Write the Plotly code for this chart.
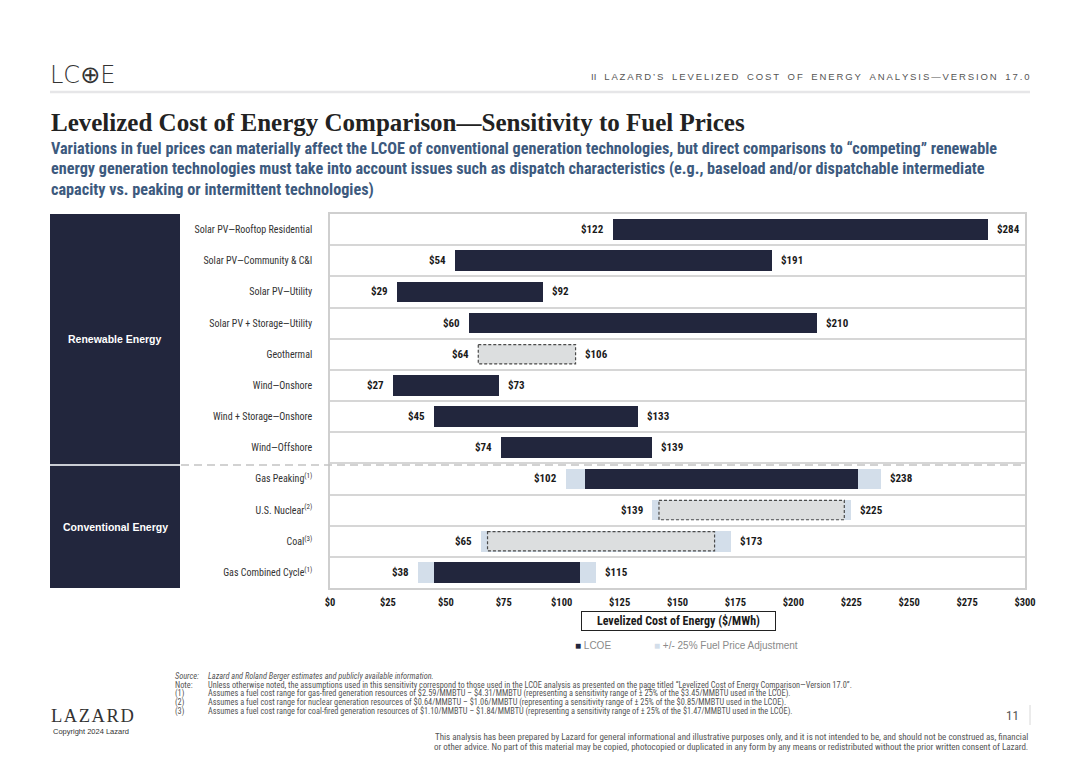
import plotly.graph_objects as go

# ---------------- data ----------------
categories = [
    "Solar PV\u2014Rooftop Residential",
    "Solar PV\u2014Community & C&I",
    "Solar PV\u2014Utility",
    "Solar PV + Storage\u2014Utility",
    "Geothermal",
    "Wind\u2014Onshore",
    "Wind + Storage\u2014Onshore",
    "Wind\u2014Offshore",
    "Gas Peaking<sup>(1)</sup>",
    "U.S. Nuclear<sup>(2)</sup>",
    "Coal<sup>(3)</sup>",
    "Gas Combined Cycle<sup>(1)</sup>",
]
lcoe_low = [122, 54, 29, 60, 64, 27, 45, 74, 110, 142, 68, 45]
lcoe_high = [284, 191, 92, 210, 106, 73, 133, 139, 228, 222, 166, 108]
fuel_low = [None, None, None, None, None, None, None, None, 102, 139, 65, 38]
fuel_high = [None, None, None, None, None, None, None, None, 238, 225, 173, 115]
dashed_rows = ["Geothermal", "U.S. Nuclear<sup>(2)</sup>", "Coal<sup>(3)</sup>"]
x_ticks = [0, 25, 50, 75, 100, 125, 150, 175, 200, 225, 250, 275, 300]
series_names = ["LCOE", "+/- 25% Fuel Price Adjustment"]

# ---------------- style ----------------
W, H = 1080, 764
NAVY = "#22263d"
LIGHT = "#d3deea"
GREYBOX = "#dcdedf"
NARROW = "Roboto Condensed, Open Sans Condensed, Liberation Sans Narrow, Arial Narrow, sans-serif"
SANS = "Liberation Sans, Arial, sans-serif"
SERIF = "Liberation Serif, Times New Roman, serif"


def px(x):
    return x / W


def py(y):
    return 1 - y / H


rows = list(range(len(categories)))
BW = 0.66

fig = go.Figure()

# fuel adjustment band (behind)
fx, fb, fy = [], [], []
for i in rows:
    if fuel_low[i] is not None:
        fx.append(fuel_high[i] - fuel_low[i])
        fb.append(fuel_low[i])
        fy.append(i)
fig.add_trace(go.Bar(
    x=fx, base=fb, y=fy, orientation="h", width=BW,
    marker=dict(color=LIGHT, line=dict(width=0)),
    name=series_names[1], showlegend=False, hoverinfo="skip",
))

# LCOE solid bars
lx, lb, ly = [], [], []
for i in rows:
    if categories[i] not in dashed_rows:
        lx.append(lcoe_high[i] - lcoe_low[i])
        lb.append(lcoe_low[i])
        ly.append(i)
fig.add_trace(go.Bar(
    x=lx, base=lb, y=ly, orientation="h", width=BW,
    marker=dict(color=NAVY, line=dict(width=0)),
    name=series_names[0], showlegend=False, hoverinfo="skip",
))

shapes = []
# dashed boxes
for i in rows:
    if categories[i] in dashed_rows:
        shapes.append(dict(
            type="rect", xref="x", yref="y",
            x0=lcoe_low[i], x1=lcoe_high[i], y0=i - BW / 2 + 0.02, y1=i + BW / 2 - 0.02,
            fillcolor=GREYBOX, line=dict(color="#4a4a4a", width=1.2, dash="3px,2px"),
            layer="above",
        ))

annotations = []


def note(x, y, text, size, color="#333", family=NARROW, xanchor="left", **kw):
    annotations.append(dict(x=px(x), y=py(y), xref="paper", yref="paper", text=text,
                            showarrow=False, xanchor=xanchor, yanchor="middle",
                            font=dict(family=family, size=size, color=color), **kw))


# value labels
for i in rows:
    lo = fuel_low[i] if fuel_low[i] is not None else lcoe_low[i]
    hi = fuel_high[i] if fuel_high[i] is not None else lcoe_high[i]
    annotations.append(dict(x=lo, y=i, xref="x", yref="y", text=f"<b>${lo}</b>",
                            showarrow=False, xanchor="right", yanchor="middle", xshift=-7,
                            font=dict(family=NARROW, size=11, color="#1a1a1a")))
    annotations.append(dict(x=hi, y=i, xref="x", yref="y", text=f"<b>${hi}</b>",
                            showarrow=False, xanchor="left", yanchor="middle", xshift=7,
                            font=dict(family=NARROW, size=11, color="#1a1a1a")))

# left category panels
PT, PM, PB = 214, 465, 588
shapes.append(dict(type="rect", xref="paper", yref="paper", x0=px(50), x1=px(180),
                   y0=py(PM - 1), y1=py(PT), fillcolor=NAVY, line=dict(width=0), layer="below"))
shapes.append(dict(type="rect", xref="paper", yref="paper", x0=px(50), x1=px(180),
                   y0=py(PB), y1=py(PM + 1), fillcolor=NAVY, line=dict(width=0), layer="below"))
shapes.append(dict(type="line", xref="paper", yref="paper", x0=px(50), x1=px(180),
                   y0=py(PM), y1=py(PM), line=dict(color="#b8bcc6", width=1.5)))
# dashed separator across
shapes.append(dict(type="line", xref="paper", yref="paper", x0=px(181), x1=px(1025),
                   y0=py(PM), y1=py(PM), line=dict(color="#c4c4c4", width=1.5, dash="8px,5px"),
                   layer="above"))
# header rule
shapes.append(dict(type="line", xref="paper", yref="paper", x0=px(50), x1=px(1030),
                   y0=py(92), y1=py(92), line=dict(color="#e6e6e8", width=2.5)))
# page number divider
shapes.append(dict(type="line", xref="paper", yref="paper", x0=px(1030), x1=px(1030),
                   y0=py(705), y1=py(725), line=dict(color="#d8d8d8", width=1)))

note(115, 339, "<b>Renewable Energy</b>", 10.5, "white", SANS, "center")
note(115, 527, "<b>Conventional Energy</b>", 10.5, "white", SANS, "center")

# header
note(48, 75, "LC\u2295E", 24, "#333", "DejaVu Sans Light, DejaVu Sans")
hdr = "LAZARD\u2019S LEVELIZED COST OF ENERGY ANALYSIS\u2014VERSION 17.0"
hdr_spaced = "II   " + "\u2009".join(hdr.replace(" ", "\u2002"))
note(1031, 77, hdr_spaced, 9.5, "#555", SANS, "right")

note(49, 122, "<b>Levelized Cost of Energy Comparison\u2014Sensitivity to Fuel Prices</b>",
     25, "#222", SERIF)
sub = [
    "Variations in fuel prices can materially affect the LCOE of conventional generation technologies, but direct comparisons to \u201ccompeting\u201d renewable",
    "energy generation technologies must take into account issues such as dispatch characteristics (e.g., baseload and/or dispatchable intermediate",
    "capacity vs. peaking or intermittent technologies)",
]
for k, s in enumerate(sub):
    note(49, 148 + 21 * k, f"<b>{s}</b>", 16.2, "#3d5a7e")

# axis title box
note(678, 621, "<b>Levelized Cost of Energy ($/MWh)</b>", 12, "#1a1a1a", NARROW, "center",
     bordercolor="#222", borderwidth=1, borderpad=2, width=189)

# legend (drawn as text keys)
note(573, 645, f"<span style='color:{NAVY}'>\u25a0</span> {series_names[0]}", 10, "#8a8a8a", SANS)
note(652, 645, f"<span style='color:{LIGHT}'>\u25a0</span> {series_names[1]}", 10, "#8a8a8a", SANS)

# footnotes
fn = [
    ("<i>Source:</i>", "<i>Lazard and Roland Berger estimates and publicly available information.</i>"),
    ("Note:", "Unless otherwise noted, the assumptions used in this sensitivity correspond to those used in the LCOE analysis as presented on the page titled \u201cLevelized Cost of Energy Comparison\u2014Version 17.0\u201d."),
    ("(1)", "Assumes a fuel cost range for gas-fired generation resources of $2.59/MMBTU \u2013 $4.31/MMBTU (representing a sensitivity range of \u00b1 25% of the $3.45/MMBTU used in the LCOE)."),
    ("(2)", "Assumes a fuel cost range for nuclear generation resources of $0.64/MMBTU \u2013 $1.06/MMBTU (representing a sensitivity range of \u00b1 25% of the $0.85/MMBTU used in the LCOE)."),
    ("(3)", "Assumes a fuel cost range for coal-fired generation resources of $1.10/MMBTU \u2013 $1.84/MMBTU (representing a sensitivity range of \u00b1 25% of the $1.47/MMBTU used in the LCOE)."),
]
for k, (a, b) in enumerate(fn):
    yy = 676 + 8.8 * k
    note(173, yy, a, 8.3, "#555")
    note(206, yy, b, 8.3, "#555")

note(49, 716, "L\u200aA\u200aZ\u200aA\u200aR\u200aD", 18.5, "#333", SERIF)
note(51, 731, "Copyright 2024 Lazard", 7.5, "#333", SANS)
note(1021, 715, "11", 13, "#555", NARROW, "right")
disc = [
    "This analysis has been prepared by Lazard for general informational and illustrative purposes only, and it is not intended to be, and should not be construed as, financial",
    "or other advice. No part of this material may be copied, photocopied or duplicated in any form by any means or redistributed without the prior written consent of Lazard.",
]
for k, s in enumerate(disc):
    note(1030, 737 + 10 * k, s, 9, "#555", NARROW, "right")

fig.update_layout(
    width=W, height=H, autosize=False,
    margin=dict(l=0, r=0, t=0, b=0, pad=0, autoexpand=False),
    paper_bgcolor="white", plot_bgcolor="white",
    barmode="overlay",
    bargap=0,
    showlegend=False,
    xaxis=dict(domain=[px(330), px(1025)], range=[0, 300], tickvals=x_ticks,
               ticktext=[f"<b>${v}</b>" for v in x_ticks], showgrid=False, zeroline=False,
               showline=True, linecolor="#cfcfcf", linewidth=1.5, mirror=True,
               ticks="", ticklabelstandoff=4, automargin=False,
               tickfont=dict(family=NARROW, size=10.5, color="#1a1a1a"),
               fixedrange=True),
    yaxis=dict(domain=[py(PB), py(PT)], range=[len(categories) - 0.5, -0.5],
               tickvals=rows, ticktext=categories, showgrid=False, zeroline=False,
               showline=True, linecolor="#cfcfcf", linewidth=1.5, mirror=True,
               ticks="", ticklabelstandoff=14, automargin=False,
               tickfont=dict(family=NARROW, size=10, color="#333"),
               minor=dict(tickvals=[r + 0.5 for r in rows[:-1]], showgrid=True,
                          gridcolor="#d6d6d6", gridwidth=1.5, ticks=""),
               fixedrange=True),
    shapes=shapes,
    annotations=annotations,
)

fig.write_html("out.html", config={"displayModeBar": False, "responsive": False},
               post_script="document.body.style.margin='0px';")
